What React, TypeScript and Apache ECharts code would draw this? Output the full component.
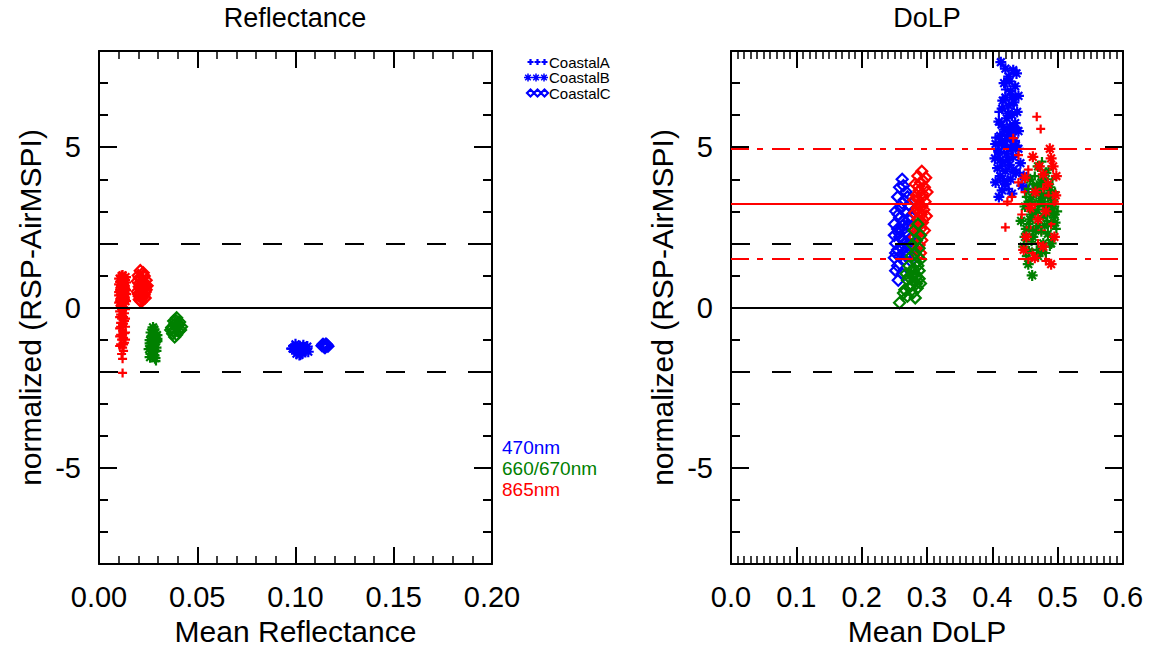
import React, { useEffect, useRef } from "react";
import * as echarts from "echarts";

const FONT = "'Liberation Sans', Arial, Helvetica, sans-serif";
const BLUE = "#0000ff";
const GREEN = "#008000";
const RED = "#ff0000";

// ---------- Reflectance panel: [mean reflectance, normalized (RSP-AirMSPI)] ----------
const reflBlueA = [[0.0985,-1.2],[0.1,-1.3],[0.102,-1.25],[0.104,-1.35],[0.106,-1.3],[0.101,-1.4],[0.103,-1.45],[0.105,-1.42],[0.0995,-1.35],[0.1025,-1.5],[0.1045,-1.22],[0.0975,-1.28]];
const reflBlueB = [[0.1,-1.15],[0.102,-1.2],[0.104,-1.18],[0.106,-1.22],[0.103,-1.3],[0.101,-1.32],[0.105,-1.3],[0.1035,-1.4],[0.102,-1.48],[0.0985,-1.28],[0.1065,-1.38],[0.1005,-1.44]];
const reflBlueC = [[0.114,-1.15],[0.115,-1.2],[0.116,-1.17],[0.1145,-1.22],[0.1155,-1.14],[0.115,-1.25],[0.1135,-1.19],[0.1165,-1.21]];
const reflGreenA = [[0.029,-1.67],[0.0285,-1.5],[0.027,-1.42],[0.0275,-1.3],[0.026,-1.22],[0.028,-1.15],[0.0265,-1.05],[0.029,-0.95],[0.0275,-0.85],[0.028,-0.75],[0.0295,-1.35],[0.0255,-1.12],[0.03,-1.05]];
const reflGreenB = [[0.0265,-1.45],[0.028,-1.38],[0.0255,-1.3],[0.029,-1.25],[0.027,-1.18],[0.0285,-1.1],[0.026,-1.02],[0.0295,-0.98],[0.027,-0.9],[0.0285,-0.8],[0.028,-0.68],[0.0275,-0.62],[0.0265,-0.78],[0.0295,-0.86],[0.026,-1.55],[0.0285,-1.58]];
const reflGreenC = [[0.0395,-0.32],[0.038,-0.42],[0.041,-0.45],[0.0385,-0.52],[0.0405,-0.55],[0.037,-0.62],[0.0395,-0.62],[0.042,-0.6],[0.038,-0.72],[0.0405,-0.75],[0.0375,-0.82],[0.0395,-0.85],[0.0385,-0.92],[0.0415,-0.7],[0.039,-0.4],[0.0365,-0.7]];
const reflRedA = [[0.012,-2.04],[0.012,-1.6],[0.0115,-1.45],[0.0125,-1.35],[0.012,-1.25],[0.011,-1.15],[0.013,-1.1],[0.0115,-1.0],[0.0125,-0.95],[0.011,-0.85],[0.013,-0.8],[0.012,-0.72],[0.0105,-0.65],[0.0135,-0.6],[0.012,-0.55],[0.011,-0.48],[0.013,-0.42],[0.0115,-0.35],[0.0125,-0.3],[0.011,-0.22],[0.013,-0.18],[0.012,-0.1],[0.0115,-0.05],[0.0105,-1.2],[0.0135,-1.0],[0.0105,-0.9],[0.0135,-0.78],[0.011,-0.6],[0.0125,-0.5],[0.0135,-0.35],[0.0105,-0.3],[0.012,-0.25],[0.0135,-0.05],[0.0105,-0.12],[0.012,-0.85],[0.0125,-1.15]];
const reflRedB = [[0.0115,0.05],[0.0125,0.12],[0.011,0.2],[0.013,0.25],[0.012,0.32],[0.0105,0.38],[0.0135,0.42],[0.012,0.5],[0.011,0.55],[0.013,0.6],[0.0115,0.68],[0.0125,0.72],[0.011,0.8],[0.013,0.85],[0.012,0.92],[0.0115,0.98],[0.0105,0.15],[0.0135,0.2],[0.0105,0.48],[0.0135,0.55],[0.0125,0.4],[0.0105,0.72],[0.0135,0.78],[0.012,0.65],[0.0125,0.88],[0.0135,0.95],[0.0105,0.9],[0.012,1.0],[0.0115,0.28]];
const reflRedC = [[0.021,1.15],[0.0225,1.08],[0.02,1.0],[0.023,0.98],[0.0215,0.9],[0.024,0.85],[0.0195,0.82],[0.022,0.75],[0.0235,0.7],[0.0205,0.65],[0.022,0.58],[0.024,0.55],[0.0195,0.5],[0.0215,0.45],[0.023,0.4],[0.0205,0.35],[0.022,0.3],[0.021,0.22],[0.0215,0.18],[0.0225,1.0],[0.0205,0.92],[0.0225,0.82],[0.0245,0.68],[0.0205,0.75],[0.0235,0.62],[0.021,0.58],[0.0235,0.48],[0.02,0.42],[0.0225,0.36],[0.0235,0.3],[0.0205,0.25]];

// ---------- DoLP panel: [mean DoLP, normalized (RSP-AirMSPI)] ----------
const dolpBlueA = [[0.405,5.3],[0.43,4.9],[0.415,4.4],[0.438,5.6],[0.41,6.1],[0.425,3.7],[0.42,6.8],[0.432,6.3],[0.408,4.9],[0.442,4.2]];
const dolpBlueB = [[0.413,7.65],[0.42,7.45],[0.432,7.4],[0.437,7.3],[0.425,7.2],[0.418,7.0],[0.435,6.9],[0.428,6.75],[0.44,6.6],[0.42,6.55],[0.433,6.4],[0.425,6.3],[0.415,6.2],[0.438,6.1],[0.43,6.0],[0.422,5.9],[0.41,5.8],[0.435,5.75],[0.427,5.65],[0.418,5.55],[0.44,5.5],[0.43,5.4],[0.412,5.35],[0.422,5.25],[0.434,5.2],[0.405,5.1],[0.418,5.05],[0.428,5.0],[0.44,4.95],[0.41,4.85],[0.422,4.8],[0.432,4.7],[0.404,4.65],[0.416,4.55],[0.443,4.5],[0.426,4.45],[0.408,4.35],[0.42,4.25],[0.436,4.2],[0.412,4.1],[0.428,4.0],[0.405,3.9],[0.42,3.85],[0.445,3.8],[0.415,3.65],[0.43,3.55],[0.41,3.45],[0.426,7.05],[0.43,6.55],[0.416,6.45],[0.424,6.05],[0.414,5.7],[0.432,5.55],[0.424,5.45],[0.414,5.15],[0.436,5.05],[0.424,4.6],[0.412,4.6],[0.432,4.3],[0.418,3.95],[0.448,4.1],[0.452,3.7]];
const dolpBlueC = [[0.262,4.0],[0.258,3.75],[0.268,3.6],[0.255,3.45],[0.265,3.35],[0.272,3.2],[0.26,3.1],[0.252,3.0],[0.268,2.95],[0.275,2.85],[0.258,2.8],[0.264,2.7],[0.25,2.6],[0.27,2.55],[0.278,2.5],[0.255,2.45],[0.262,2.4],[0.268,2.3],[0.25,2.25],[0.258,2.2],[0.274,2.15],[0.264,2.1],[0.252,2.0],[0.27,1.95],[0.26,1.9],[0.278,1.85],[0.255,1.8],[0.266,1.75],[0.272,1.65],[0.258,1.6],[0.25,1.55],[0.265,1.5],[0.275,1.45],[0.255,1.3],[0.252,1.15],[0.262,1.05],[0.256,0.85],[0.264,3.8],[0.27,3.45],[0.262,3.25],[0.256,2.9],[0.272,2.75],[0.262,2.55],[0.256,2.35],[0.27,2.05],[0.262,1.85],[0.252,1.7],[0.268,1.6]];
const dolpRedA = [[0.468,5.95],[0.474,5.57],[0.432,5.28],[0.44,4.75],[0.455,4.3],[0.43,3.45],[0.423,3.3],[0.45,3.6],[0.478,3.7],[0.42,2.5],[0.445,2.9],[0.465,3.2],[0.49,2.6],[0.47,2.0],[0.455,1.5],[0.482,1.45],[0.462,1.7],[0.44,3.9],[0.495,3.3],[0.475,2.4],[0.458,2.5],[0.486,3.5]];
const dolpRedB = [[0.488,4.95],[0.49,4.65],[0.493,4.4],[0.462,4.7],[0.478,4.15],[0.45,4.05],[0.485,3.85],[0.466,3.6],[0.497,3.5],[0.458,3.1],[0.482,3.0],[0.47,2.75],[0.495,2.2],[0.452,2.2],[0.478,1.9],[0.465,1.55],[0.49,1.35],[0.448,1.8],[0.472,4.4],[0.498,4.1]];
const dolpRedC = [[0.292,4.25],[0.286,4.1],[0.298,4.05],[0.29,3.9],[0.282,3.85],[0.296,3.75],[0.288,3.65],[0.3,3.6],[0.284,3.5],[0.293,3.45],[0.28,3.35],[0.297,3.3],[0.289,3.2],[0.285,3.1],[0.295,3.05],[0.281,2.95],[0.291,2.9],[0.299,2.85],[0.286,2.75],[0.293,2.65],[0.283,2.55],[0.29,2.45],[0.296,2.4],[0.287,2.3],[0.281,2.2],[0.292,2.1],[0.288,1.95],[0.284,1.8],[0.29,1.7],[0.286,1.6],[0.294,3.95],[0.287,3.78],[0.293,3.55],[0.286,3.38],[0.292,3.15],[0.288,2.98],[0.294,2.75],[0.29,2.6],[0.284,2.38]];
const dolpGreenA = [[0.452,1.6],[0.468,1.8],[0.482,1.7],[0.46,2.05],[0.49,2.1],[0.475,2.35],[0.498,2.45],[0.456,2.6],[0.484,2.7],[0.466,2.95],[0.5,3.0],[0.478,3.15],[0.46,3.3],[0.49,3.4],[0.472,3.55],[0.496,3.6],[0.455,3.7],[0.484,3.9],[0.465,4.1],[0.492,4.0],[0.476,4.55],[0.488,1.9],[0.462,2.4],[0.494,2.8],[0.47,3.05],[0.452,3.45],[0.48,3.3],[0.462,3.85],[0.486,4.3]];
const dolpGreenB = [[0.461,1.0],[0.455,1.35],[0.47,1.6],[0.448,1.9],[0.478,2.0],[0.462,2.2],[0.485,2.3],[0.452,2.45],[0.47,2.55],[0.49,2.6],[0.458,2.75],[0.478,2.85],[0.495,2.9],[0.465,3.0],[0.485,3.1],[0.45,3.15],[0.472,3.25],[0.492,3.35],[0.46,3.45],[0.48,3.5],[0.468,3.65],[0.488,3.75],[0.475,3.9],[0.458,4.0],[0.482,4.2],[0.47,4.4],[0.456,1.75],[0.476,1.75],[0.49,2.0],[0.466,2.4],[0.48,2.55],[0.496,2.65],[0.46,2.9],[0.488,2.95],[0.474,3.4],[0.494,3.15],[0.456,3.3],[0.468,3.8],[0.49,3.55],[0.478,4.05],[0.444,2.7],[0.45,2.2]];
const dolpGreenC = [[0.286,2.6],[0.28,2.4],[0.29,2.25],[0.284,2.1],[0.278,1.95],[0.288,1.85],[0.282,1.7],[0.276,1.6],[0.29,1.5],[0.284,1.4],[0.272,1.3],[0.28,1.2],[0.288,1.15],[0.268,1.05],[0.276,1.0],[0.284,0.95],[0.27,0.85],[0.28,0.8],[0.29,0.75],[0.274,0.65],[0.285,0.6],[0.266,0.55],[0.278,0.45],[0.27,0.35],[0.282,0.3],[0.258,0.15],[0.286,1.3],[0.276,1.15],[0.282,1.05],[0.272,0.95],[0.288,0.9],[0.276,0.7],[0.284,0.75],[0.264,0.45]];

// ---------- axes / reference lines ----------
const yMajorTicks = [-5, 0, 5];
const refLines = [0, 2, -2];
const dolpMean = 3.23;
const dolpBand = [4.95, 1.51];
const legendNames = ["CoastalA", "CoastalB", "CoastalC"];
const bandNames = ["470nm", "660/670nm", "865nm"];
const bandColors = [BLUE, GREEN, RED];

const PLUS = "path://M0,5L10,5M5,0L5,10";
const STAR = "path://M5,0L5,10M0,5L10,5M1.5,1.5L8.5,8.5M1.5,8.5L8.5,1.5";
const DIAM = "path://M5,0L10,5L5,10L0,5Z";

const LEG_PLUS = "M0.5,3.5L6.5,3.5M3.5,0.5L3.5,6.5M7.5,3.5L13.5,3.5M10.5,0.5L10.5,6.5M14.5,3.5L20.5,3.5M17.5,0.5L17.5,6.5";
const LEG_STAR = "M4,0L4,8M0,4L8,4M1.2,1.2L6.8,6.8M1.2,6.8L6.8,1.2M12,0L12,8M8,4L16,4M9.2,1.2L14.8,6.8M9.2,6.8L14.8,1.2M20,0L20,8M16,4L24,4M17.2,1.2L22.8,6.8M17.2,6.8L22.8,1.2";
const LEG_DIAM = "M3.5,0L7,3.5L3.5,7L0,3.5ZM10.5,0L14,3.5L10.5,7L7,3.5ZM17.5,0L21,3.5L17.5,7L14,3.5Z";

let registered = false;
function registerShapes() {
  if (registered) return;
  registered = true;
  echarts.graphic.registerShape("legPlus", echarts.graphic.extendPath(LEG_PLUS, {}) as any);
  echarts.graphic.registerShape("legStar", echarts.graphic.extendPath(LEG_STAR, {}) as any);
  echarts.graphic.registerShape("legDiam", echarts.graphic.extendPath(LEG_DIAM, {}) as any);
}

const lineStyle = { color: "#000", width: 2 };
const labelStyle = { color: "#000", fontSize: 29, fontFamily: FONT };
const nameStyle = { color: "#000", fontSize: 30, fontFamily: FONT };

function xAxis(grid: number, pos: string, max: number, interval: number, split: number, dec: number, name: string) {
  const main = pos === "bottom";
  return {
    type: "value", gridIndex: grid, position: pos, min: 0, max, interval,
    axisLine: { show: true, onZero: false, lineStyle },
    axisTick: { show: true, inside: true, length: 17, lineStyle },
    minorTick: { show: true, splitNumber: split, length: 8, lineStyle: { color: "#000", width: 1.5 } },
    splitLine: { show: false }, minorSplitLine: { show: false },
    axisLabel: { show: main, margin: 18, ...labelStyle, formatter: (v: number) => v.toFixed(dec) },
    name: main ? name : "", nameLocation: "middle", nameGap: 52,
    nameTextStyle: { ...nameStyle },
  };
}

function yAxes(grid: number) {
  const res: any[] = [];
  for (const pos of ["left", "right"]) {
    const left = pos === "left";
    res.push({
      type: "value", gridIndex: grid, position: pos, min: -8, max: 8,
      axisLine: { show: true, onZero: false, lineStyle },
      axisTick: { show: true, inside: true, length: 18, lineStyle, customValues: yMajorTicks },
      axisLabel: { show: left, margin: 18, ...labelStyle, customValues: yMajorTicks },
      splitLine: { show: false },
      name: left ? "normalized (RSP-AirMSPI)" : "", nameLocation: "middle", nameGap: 54,
      nameTextStyle: { ...nameStyle },
    });
    res.push({
      type: "value", gridIndex: grid, position: pos, min: -8, max: 8, interval: 1,
      axisLine: { show: false, onZero: false },
      axisTick: { show: true, inside: true, length: 9, lineStyle },
      axisLabel: { show: false },
      splitLine: { show: false },
    });
  }
  return res;
}

function sc(data: number[][], color: string, sym: string, size: number, xi: number, yi: number, extra: any = {}) {
  return {
    type: "scatter", data, xAxisIndex: xi, yAxisIndex: yi, symbol: sym, symbolSize: size,
    itemStyle: { color: sym === DIAM ? "rgba(0,0,0,0)" : color, borderColor: color, borderWidth: 2.2, opacity: 1 },
    emphasis: { disabled: true }, silent: true, ...extra,
  };
}

const dashed = [19, 22];
const dashDot = [18, 8, 6, 9];

function refMarkLine(extra: any[] = []) {
  return {
    silent: true, symbol: ["none", "none"], label: { show: false }, z: 10,
    data: [
      { yAxis: refLines[0], lineStyle: { color: "#000", width: 2, type: "solid" } },
      { yAxis: refLines[1], lineStyle: { color: "#000", width: 2, type: dashed } },
      { yAxis: refLines[2], lineStyle: { color: "#000", width: 2, type: dashed } },
      ...extra,
    ],
  };
}

export default function App() {
  const ref = useRef<HTMLDivElement>(null);
  useEffect(() => {
    if (!ref.current) return;
    registerShapes();
    const chart = echarts.init(ref.current, null, { renderer: "svg" });
    const legendShapes = ["legPlus", "legStar", "legDiam"];
    const graphic: any[] = [
      { type: "text", x: 295, y: 18, style: { text: "Reflectance", fontSize: 27, fontFamily: FONT, fill: "#000", align: "center", verticalAlign: "middle" } },
      { type: "text", x: 927, y: 18, style: { text: "DoLP", fontSize: 27, fontFamily: FONT, fill: "#000", align: "center", verticalAlign: "middle" } },
    ];
    legendNames.forEach((n, i) => {
      const cy = 62 + i * 15.5;
      graphic.push({ type: legendShapes[i], x: i === 1 ? 524 : 527, y: cy - (i === 1 ? 4 : 3.5), style: { stroke: BLUE, fill: "none", lineWidth: i === 1 ? 1.5 : 2.2 } });
      graphic.push({ type: "text", x: 549, y: cy, style: { text: n, fontSize: 15, fontFamily: FONT, fill: "#000", align: "left", verticalAlign: "middle" } });
    });
    bandNames.forEach((n, i) => {
      graphic.push({ type: "text", x: 502, y: 447 + i * 21, style: { text: n, fontSize: 19, fontFamily: FONT, fill: bandColors[i], align: "left", verticalAlign: "middle" } });
    });

    chart.setOption({
      animation: false,
      backgroundColor: "#fff",
      grid: [
        { left: 99, top: 51, width: 393, height: 518 },
        { left: 731, top: 51, width: 392, height: 518 },
      ],
      xAxis: [
        xAxis(0, "bottom", 0.2, 0.05, 5, 2, "Mean Reflectance"),
        xAxis(0, "top", 0.2, 0.05, 5, 2, ""),
        xAxis(1, "bottom", 0.6, 0.1, 10, 1, "Mean DoLP"),
        xAxis(1, "top", 0.6, 0.1, 10, 1, ""),
      ],
      yAxis: [...yAxes(0), ...yAxes(1)],
      graphic,
      series: [
        sc(reflBlueA, BLUE, PLUS, 9, 0, 0, { markLine: refMarkLine() }),
        sc(reflRedA, RED, PLUS, 9, 0, 0),
        sc(reflGreenA, GREEN, PLUS, 9, 0, 0),
        sc(reflBlueB, BLUE, STAR, 11, 0, 0),
        sc(reflRedB, RED, STAR, 11, 0, 0),
        sc(reflGreenB, GREEN, STAR, 11, 0, 0),
        sc(reflBlueC, BLUE, DIAM, 11, 0, 0),
        sc(reflRedC, RED, DIAM, 11, 0, 0),
        sc(reflGreenC, GREEN, DIAM, 11, 0, 0),
        sc(dolpBlueC, BLUE, DIAM, 11, 2, 4, {
          markLine: refMarkLine([
            { yAxis: dolpMean, lineStyle: { color: RED, width: 2, type: "solid" } },
            { yAxis: dolpBand[0], lineStyle: { color: RED, width: 2, type: dashDot } },
            { yAxis: dolpBand[1], lineStyle: { color: RED, width: 2, type: dashDot } },
          ]),
        }),
        sc(dolpRedC, RED, DIAM, 11, 2, 4),
        sc(dolpGreenC, GREEN, DIAM, 11, 2, 4),
        sc(dolpBlueB, BLUE, STAR, 11, 2, 4),
        sc(dolpBlueA, BLUE, PLUS, 9, 2, 4),
        sc(dolpGreenB, GREEN, STAR, 11, 2, 4),
        sc(dolpRedA, RED, PLUS, 9, 2, 4),
        sc(dolpGreenA, GREEN, PLUS, 9, 2, 4),
        sc(dolpRedB, RED, STAR, 11, 2, 4),
      ],
    });
    return () => chart.dispose();
  }, []);
  return <div ref={ref} style={{ position: "absolute", left: 0, top: 0, width: 1149, height: 651, background: "#fff" }} />;
}
